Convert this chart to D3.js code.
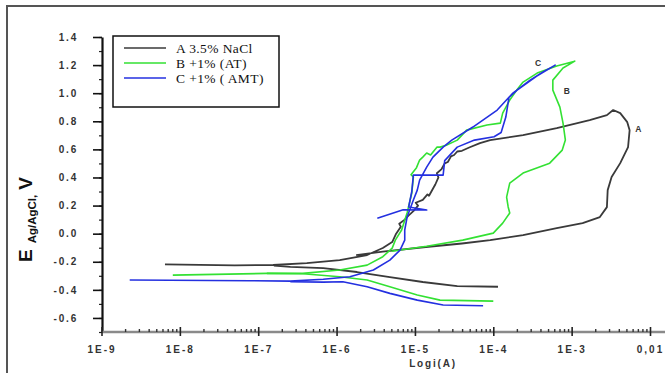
<!DOCTYPE html>
<html><head><meta charset="utf-8">
<script src="https://cdn.jsdelivr.net/npm/d3@7"></script>
<style>body{margin:0;background:#fff}svg{display:block}</style>
</head><body>
<svg id="c" width="665" height="373"></svg>
<script>
// ---- data ----
const xTickValues = [1e-9, 1e-8, 1e-7, 1e-6, 1e-5, 1e-4, 1e-3, 1e-2];
const xTickLabels = ["1E-9", "1E-8", "1E-7", "1E-6", "1E-5", "1E-4", "1E-3", "0,01"];
const yTickValues = [1.4, 1.2, 1.0, 0.8, 0.6, 0.4, 0.2, 0.0, -0.2, -0.4, -0.6];
const yTickLabels = ["1.4", "1.2", "1.0", "0.8", "0.6", "0.4", "0.2", "0.0", "-0.2", "-0.4", "-0.6"];
const seriesNames = ["A 3.5% NaCl", "B +1% (AT)", "C +1% ( AMT)"];
const curveLabels = ["A", "B", "C"];
const xTitle = "Logi(A)";

// points are [log10(I / A), E (V vs Ag/AgCl)]
const aAnodic = [[-8.19,-0.218],[-7.30,-0.226],[-6.81,-0.223],[-6.38,-0.209],[-5.96,-0.188],[-5.61,-0.152],[-5.41,-0.102],[-5.29,-0.06],[-5.24,0.0],[-5.18,0.05],[-5.20,0.07],[-5.13,0.10],[-5.08,0.13],[-5.10,0.12],[-5.02,0.16],[-4.96,0.20],[-4.99,0.22],[-4.90,0.24],[-4.84,0.28],[-4.82,0.27],[-4.76,0.33],[-4.74,0.35],[-4.70,0.40],[-4.72,0.43],[-4.66,0.46],[-4.62,0.50],[-4.58,0.51],[-4.54,0.55],[-4.50,0.56],[-4.46,0.585],[-4.40,0.59],[-4.30,0.615],[-4.17,0.645],[-4.04,0.666],[-3.62,0.702],[-3.19,0.752],[-2.77,0.809],[-2.55,0.844],[-2.47,0.880],[-2.38,0.858],[-2.29,0.794],[-2.26,0.737],[-2.28,0.616],[-2.38,0.502],[-2.49,0.403],[-2.54,0.31],[-2.55,0.189],[-2.64,0.118],[-2.86,0.075],[-3.19,0.04],[-3.62,-0.01],[-4.04,-0.046],[-4.40,-0.07],[-4.86,-0.095],[-5.41,-0.128],[-5.75,-0.152]];
const aCathodic = [[-6.80,-0.228],[-6.59,-0.236],[-6.17,-0.245],[-5.74,-0.273],[-5.32,-0.309],[-4.90,-0.344],[-4.46,-0.373],[-3.94,-0.378]];

const bAnodic = [[-8.09,-0.295],[-6.89,-0.283],[-6.43,-0.283],[-5.96,-0.259],[-5.61,-0.224],[-5.41,-0.164],[-5.29,-0.103],[-5.25,-0.046],[-5.17,0.026],[-5.10,0.147],[-5.04,0.289],[-5.02,0.403],[-5.05,0.42],[-4.98,0.47],[-4.94,0.524],[-4.90,0.545],[-4.85,0.574],[-4.80,0.56],[-4.72,0.616],[-4.68,0.616],[-4.60,0.63],[-4.46,0.666],[-4.34,0.737],[-4.08,0.773],[-3.91,0.787],[-3.88,0.858],[-3.79,0.951],[-3.70,1.022],[-3.62,1.079],[-3.44,1.143],[-3.19,1.193],[-2.96,1.228],[-3.11,1.179],[-3.24,1.093],[-3.24,1.022],[-3.15,0.901],[-3.11,0.787],[-3.08,0.666],[-3.12,0.595],[-3.28,0.502],[-3.62,0.431],[-3.79,0.36],[-3.83,0.26],[-3.81,0.19],[-3.79,0.147],[-3.88,0.075],[-4.00,0.004],[-4.39,-0.046],[-4.85,-0.09],[-5.30,-0.125]];
const bCathodic = [[-6.89,-0.283],[-6.43,-0.285],[-5.96,-0.307],[-5.61,-0.330],[-5.32,-0.378],[-4.97,-0.437],[-4.68,-0.473],[-4.00,-0.480]];

const cAnodic = [[-8.64,-0.33],[-7.10,-0.335],[-6.59,-0.338],[-6.17,-0.325],[-5.83,-0.307],[-5.53,-0.259],[-5.32,-0.188],[-5.19,-0.117],[-5.13,-0.046],[-5.13,0.026],[-5.10,0.118],[-5.02,0.239],[-4.97,0.31],[-4.94,0.381],[-4.85,0.474],[-4.77,0.545],[-4.64,0.616],[-4.53,0.666],[-4.26,0.759],[-3.95,0.88],[-3.75,1.001],[-3.53,1.093],[-3.37,1.15],[-3.21,1.2],[-3.45,1.12],[-3.70,1.02],[-3.80,0.97],[-3.84,0.83],[-3.90,0.72],[-3.99,0.69],[-4.24,0.666],[-4.46,0.616],[-4.62,0.52],[-4.64,0.417],[-5.02,0.417],[-5.04,0.30],[-5.08,0.19],[-4.85,0.168],[-5.15,0.17],[-5.48,0.11]];
const cCathodic = [[-6.59,-0.342],[-6.17,-0.345],[-5.92,-0.342],[-5.61,-0.378],[-5.32,-0.425],[-4.97,-0.473],[-4.64,-0.508],[-4.13,-0.513]];

const curveLabelPos = [[-2.15,0.744],[-3.06,1.015],[-3.43,1.214]];
const colors = ["#3a3a3a", "#33e133", "#2430e0"];

// ---- drawing ----
const svg = d3.select("#c");
svg.append("rect").attr("x",0).attr("y",0).attr("width",665).attr("height",373).attr("fill","#fff");
svg.append("rect").attr("x",7).attr("y",6).attr("width",700).attr("height",420)
  .attr("fill","none").attr("stroke","#555").attr("stroke-width",2);

const x = d3.scaleLog().domain([1e-9, 1e-2]).range([101.5, 650]);
const xMax = 665;
const y = d3.scaleLinear().domain([-0.7, 1.4]).range([332, 37]);

// y axis
const yMinor = d3.range(-0.7, 1.41, 0.1).map(v => Math.round(v*10)/10);
svg.append("g").attr("transform","translate(102,0)")
  .call(d3.axisLeft(y).tickValues(yMinor).tickSize(3).tickFormat(""))
  .call(g => g.select(".domain").remove())
  .call(g => g.selectAll("line").attr("stroke","#222").attr("stroke-width",1.2));
const ya = svg.append("g").attr("transform","translate(102,0)")
  .call(d3.axisLeft(y).tickValues(yTickValues).tickSize(9).tickSizeOuter(0).tickPadding(15)
     .tickFormat((d,i) => yTickLabels[i]));
ya.select(".domain").attr("stroke","#111").attr("stroke-width",2.2);
ya.selectAll(".tick line").attr("stroke","#111").attr("stroke-width",1.6);
ya.selectAll("text").attr("font-family","Arial, Liberation Sans, sans-serif").attr("font-size",10)
  .attr("font-weight","bold").attr("fill","#333").style("letter-spacing","1.8px");

// x axis
svg.append("line").attr("x1",102).attr("x2",xMax).attr("y1",332).attr("y2",332)
  .attr("stroke","#8a8a8a").attr("stroke-width",2.5);
const xMinor = [];
for (let e = -9; e < -1; e++) for (let m = 2; m <= 9; m++) xMinor.push(m*Math.pow(10,e));
xMinor.push(2e-2);
svg.append("g").attr("transform","translate(0,332)")
  .call(d3.axisBottom(x).tickValues(xMinor).tickSize(-3).tickFormat(""))
  .call(g => g.select(".domain").remove())
  .call(g => g.selectAll("line").attr("stroke","#333").attr("stroke-width",1.4));
const xa = svg.append("g").attr("transform","translate(0,332)")
  .call(d3.axisBottom(x).tickValues(xTickValues).tickSize(4).tickPadding(10)
     .tickFormat((d,i) => xTickLabels[i]));
xa.select(".domain").remove();
xa.selectAll(".tick line").attr("stroke","#222").attr("stroke-width",1.6).attr("y1",-5);
xa.selectAll("text").attr("font-family","Arial, Liberation Sans, sans-serif").attr("font-size",10)
  .attr("font-weight","bold").attr("fill","#333").style("letter-spacing","2px");

svg.append("text").attr("x",433).attr("y",367).attr("text-anchor","middle")
  .attr("font-family","Arial, Liberation Sans, sans-serif").attr("font-size",10).attr("font-weight","bold")
  .attr("fill","#333").style("letter-spacing","1.8px").text(xTitle);

// y title
const yt = svg.append("text").attr("transform","translate(32,262) rotate(-90)")
  .attr("font-family","Arial, Liberation Sans, sans-serif").attr("font-weight","bold").attr("fill","#111");
yt.append("tspan").attr("font-size",19).text("E");
yt.append("tspan").attr("font-size",11.5).attr("dx",6).attr("dy",4).text("Ag/AgCl,");
yt.append("tspan").attr("font-size",19).attr("dx",5).attr("dy",-4).text("V");

// curves
const line = d3.line().x(d => x(Math.pow(10, d[0]))).y(d => y(d[1])).curve(d3.curveLinear);
const series = [[aAnodic, aCathodic], [bAnodic, bCathodic], [cAnodic, cCathodic]];
const plot = svg.append("g");
series.forEach((segs, i) => {
  segs.forEach(s => plot.append("path").attr("d", line(s)).attr("fill","none")
    .attr("stroke", colors[i]).attr("stroke-width", i === 0 ? 1.8 : 1.6)
    .attr("stroke-linejoin","round"));
});
curveLabels.forEach((t, i) => {
  svg.append("text").attr("x", x(Math.pow(10, curveLabelPos[i][0])))
    .attr("y", y(curveLabelPos[i][1])).attr("text-anchor","middle").attr("dy","0.35em")
    .attr("font-family","Arial, Liberation Sans, sans-serif").attr("font-size",8.5)
    .attr("font-weight","bold").attr("fill","#333").text(t);
});

// legend
svg.append("rect").attr("x",113).attr("y",36).attr("width",166).attr("height",71)
  .attr("fill","#fff").attr("stroke","#111").attr("stroke-width",1.5);
seriesNames.forEach((n, i) => {
  const yy = 48 + i*15;
  svg.append("line").attr("x1",124).attr("x2",166).attr("y1",yy).attr("y2",yy)
    .attr("stroke", colors[i]).attr("stroke-width",1.6);
  svg.append("text").attr("x",176).attr("y",yy+4.5)
    .attr("font-family","Liberation Serif, Times New Roman, serif").attr("font-size",13.5)
    .attr("fill","#111").style("letter-spacing","0.4px").text(n);
});
</script>
</body></html>
